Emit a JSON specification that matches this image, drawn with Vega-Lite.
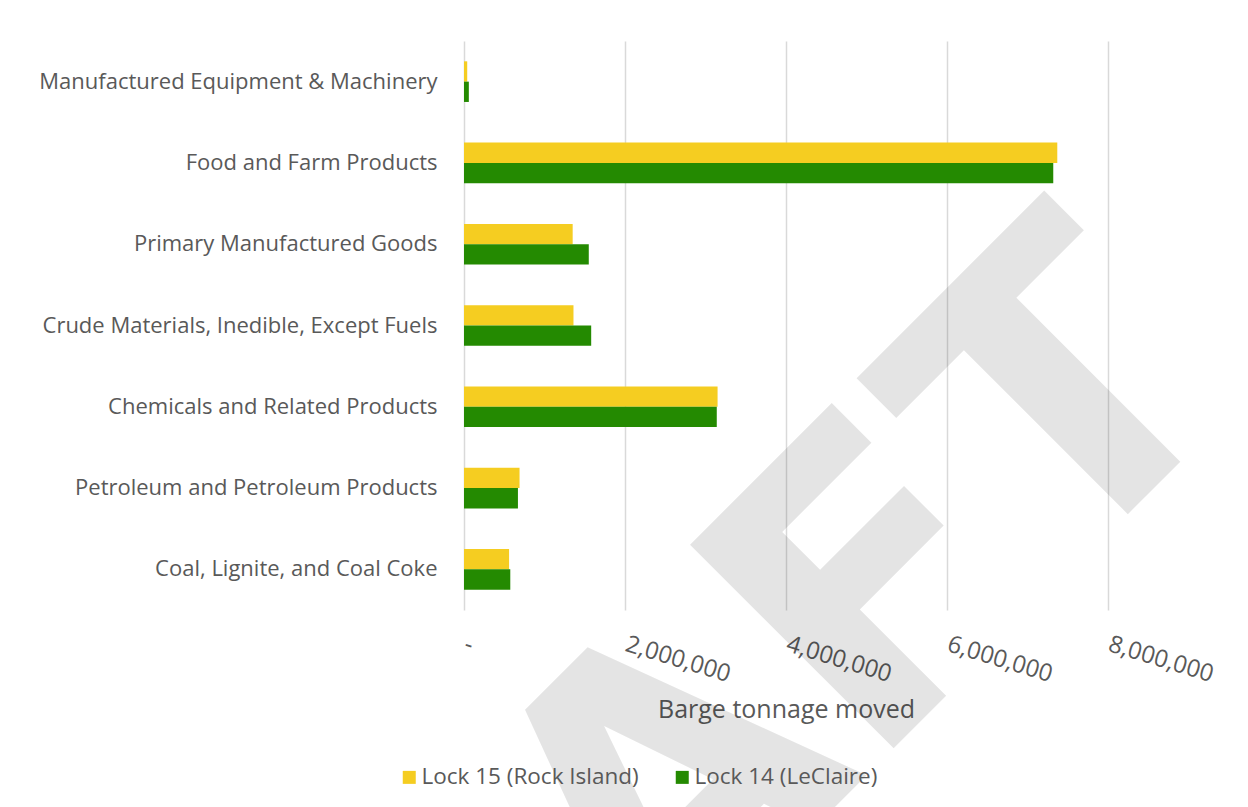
{
  "$schema": "https://vega.github.io/schema/vega-lite/v6.json",
  "width": 644,
  "height": 569,
  "autosize": {"type": "none"},
  "padding": {"left": 464, "top": 41, "right": 140, "bottom": 197},
  "background": "white",
  "config": {"font": "Open Sans", "view": {"stroke": null}},
  "encoding": {
    "y": {
      "field": "commodity",
      "type": "nominal",
      "sort": null,
      "scale": {
        "domain": [
          "Manufactured Equipment & Machinery",
          "Food and Farm Products",
          "Primary Manufactured Goods",
          "Crude Materials, Inedible, Except Fuels",
          "Chemicals and Related Products",
          "Petroleum and Petroleum Products",
          "Coal, Lignite, and Coal Coke"
        ],
        "paddingInner": 0.5,
        "paddingOuter": 0.25
      },
      "axis": {
        "title": null,
        "labelFontSize": 22,
        "labelColor": "#595959",
        "labelPadding": 27,
        "labelLimit": 600,
        "domain": false,
        "ticks": false,
        "grid": false
      }
    }
  },
  "layer": [
    {
      "data": {
        "values": [
          {"commodity": "Manufactured Equipment & Machinery", "lock": "Lock 15 (Rock Island)", "tons": 40000},
          {"commodity": "Manufactured Equipment & Machinery", "lock": "Lock 14 (LeClaire)", "tons": 60000},
          {"commodity": "Food and Farm Products", "lock": "Lock 15 (Rock Island)", "tons": 7370000},
          {"commodity": "Food and Farm Products", "lock": "Lock 14 (LeClaire)", "tons": 7320000},
          {"commodity": "Primary Manufactured Goods", "lock": "Lock 15 (Rock Island)", "tons": 1350000},
          {"commodity": "Primary Manufactured Goods", "lock": "Lock 14 (LeClaire)", "tons": 1550000},
          {"commodity": "Crude Materials, Inedible, Except Fuels", "lock": "Lock 15 (Rock Island)", "tons": 1360000},
          {"commodity": "Crude Materials, Inedible, Except Fuels", "lock": "Lock 14 (LeClaire)", "tons": 1580000},
          {"commodity": "Chemicals and Related Products", "lock": "Lock 15 (Rock Island)", "tons": 3150000},
          {"commodity": "Chemicals and Related Products", "lock": "Lock 14 (LeClaire)", "tons": 3140000},
          {"commodity": "Petroleum and Petroleum Products", "lock": "Lock 15 (Rock Island)", "tons": 690000},
          {"commodity": "Petroleum and Petroleum Products", "lock": "Lock 14 (LeClaire)", "tons": 670000},
          {"commodity": "Coal, Lignite, and Coal Coke", "lock": "Lock 15 (Rock Island)", "tons": 560000},
          {"commodity": "Coal, Lignite, and Coal Coke", "lock": "Lock 14 (LeClaire)", "tons": 575000}
        ]
      },
      "mark": {"type": "bar"},
      "encoding": {
        "x": {
          "field": "tons",
          "type": "quantitative",
          "scale": {"domain": [0, 8000000], "nice": false},
          "axis": {
            "title": "Barge tonnage moved",
            "titleFontSize": 25,
            "titleColor": "#595959",
            "titleFontWeight": "normal",
            "titleX": 322,
            "titleY": 107,
            "titleBaseline": "alphabetic",
            "values": [0, 2000000, 4000000, 6000000, 8000000],
            "labelExpr": "datum.value == 0 ? '-' : format(datum.value, ',')",
            "labelAngle": 17,
            "labelAlign": "left",
            "labelBaseline": "top",
            "labelPadding": 22,
            "labelOffset": 4,
            "labelFontSize": 24,
            "labelColor": "#595959",
            "labelFlush": false,
            "labelOverlap": false,
            "grid": true,
            "gridColor": "#d9d9d9",
            "gridWidth": 1.5,
            "domain": false,
            "ticks": false
          }
        },
        "yOffset": {
          "field": "lock",
          "type": "nominal",
          "scale": {"domain": ["Lock 15 (Rock Island)", "Lock 14 (LeClaire)"], "paddingInner": 0, "paddingOuter": 0}
        },
        "color": {
          "field": "lock",
          "type": "nominal",
          "scale": {"domain": ["Lock 15 (Rock Island)", "Lock 14 (LeClaire)"], "range": ["#F5CD21", "#248A01"]},
          "legend": {
            "title": null,
            "orient": "none",
            "legendX": -66,
            "legendY": 725,
            "direction": "horizontal",
            "symbolType": "square",
            "symbolSize": 169,
            "symbolStrokeWidth": 0,
            "symbolOpacity": 1,
            "labelFontSize": 22.5,
            "labelColor": "#595959",
            "labelLimit": 400,
            "labelOffset": 1,
            "columnPadding": 32,
            "padding": 0
          }
        }
      }
    },
    {
      "data": {"values": [{"label": "DRAFT", "commodity": "Chemicals and Related Products", "tons": 9580000}]},
      "mark": {
        "type": "text",
        "font": "DejaVu Sans",
        "fontWeight": "bold",
        "fontSize": 395,
        "angle": 315,
        "align": "right",
        "baseline": "alphabetic",
        "dx": 20,
        "fill": "#000000",
        "fillOpacity": 0.105
      },
      "encoding": {
        "x": {"field": "tons", "type": "quantitative"},
        "text": {"field": "label"}
      }
    }
  ]
}
